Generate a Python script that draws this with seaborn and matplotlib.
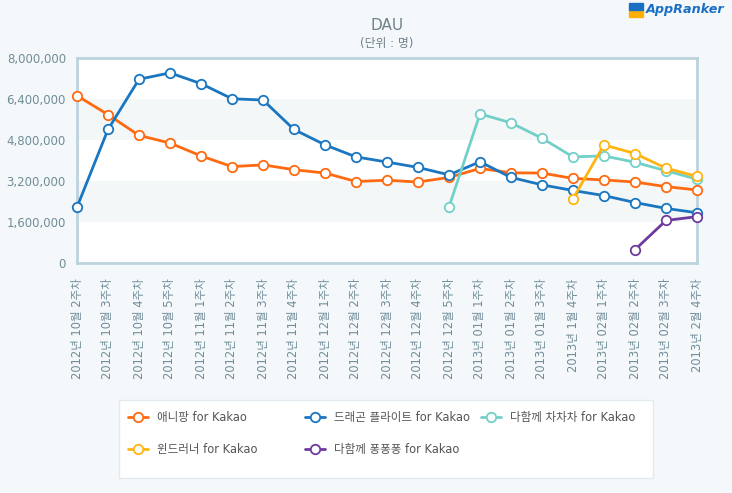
import numpy as np
import pandas as pd
import seaborn as sns
import matplotlib.pyplot as plt
from matplotlib.lines import Line2D
from matplotlib.patches import Rectangle

weeks = ["2012년 10월 2주차", "2012년 10월 3주차", "2012년 10월 4주차", "2012년 10월 5주차",
         "2012년 11월 1주차", "2012년 11월 2주차", "2012년 11월 3주차", "2012년 11월 4주차",
         "2012년 12월 1주차", "2012년 12월 2주차", "2012년 12월 3주차", "2012년 12월 4주차",
         "2012년 12월 5주차", "2013년 01월 1주차", "2013년 01월 2주차", "2013년 01월 3주차",
         "2013년 1월 4주차", "2013년 02월 1주차", "2013년 02월 2주차", "2013년 02월 3주차",
         "2013년 2월 4주차"]

anipang = [6530000, 5790000, 4980000, 4680000, 4180000, 3760000, 3830000, 3640000, 3510000,
           3180000, 3230000, 3160000, 3340000, 3690000, 3520000, 3510000, 3300000, 3240000,
           3160000, 2980000, 2850000]
dragonflight = [2180000, 5210000, 7170000, 7420000, 7000000, 6410000, 6360000, 5210000, 4610000,
                4140000, 3940000, 3730000, 3440000, 3950000, 3340000, 3050000, 2830000, 2630000,
                2360000, 2130000, 1960000]
chachacha = [None] * 12 + [2190000, 5820000, 5470000, 4870000, 4140000, 4180000, 3930000, 3600000, 3270000]
windrunner = [None] * 16 + [2510000, 4610000, 4270000, 3700000, 3380000]
pongpong = [None] * 18 + [520000, 1660000, 1810000]

series_names = ["애니팡 for Kakao", "드래곤 플라이트 for Kakao", "다함께 차차차 for Kakao",
                "윈드러너 for Kakao", "다함께 퐁퐁퐁 for Kakao"]
series_values = [anipang, dragonflight, chachacha, windrunner, pongpong]
colors = ["#ff6a10", "#1a76c0", "#72d0c8", "#ffb510", "#6e3a9c"]

y_ticks = [0, 1600000, 3200000, 4800000, 6400000, 8000000]

rows = []
for name, vals in zip(series_names, series_values):
    for i, v in enumerate(vals):
        if v is not None:
            rows.append({"idx": i, "series": name, "value": v})
df = pd.DataFrame(rows)

sns.set_theme(style="white")
plt.rcParams["font.family"] = ["DejaVu Sans", "Noto Sans CJK KR"]

W, H = 732, 493
bg = "#f5f8fa"
txt_col = "#6f8d98"
fig = plt.figure(figsize=(W / 100, H / 100), dpi=100, facecolor=bg)
ax = fig.add_axes([77 / W, 1 - 263 / H, 620 / W, 205 / H])
ax.set_facecolor("white")

for lo, hi in [(1600000, 3200000), (4800000, 6400000)]:
    ax.axhspan(lo, hi, color="#f3f7f8", zorder=0, lw=0)

for name, c in zip(series_names, colors):
    sns.lineplot(data=df[df["series"] == name], x="idx", y="value", color=c, ax=ax,
                 marker="o", markersize=6.8, markerfacecolor="white", markeredgecolor=c,
                 markeredgewidth=1.3, linewidth=2, legend=False, clip_on=False, zorder=3)

ax.set_xlim(0, len(weeks) - 1)
ax.set_ylim(0, 8000000)
ax.set_xticks(range(len(weeks)))
ax.set_xticklabels(weeks, rotation=90, fontsize=8.3, color=txt_col)
ax.set_yticks(y_ticks)
ax.set_yticklabels([f"{v:,}" for v in y_ticks], fontsize=8.5, color=txt_col)
ax.tick_params(axis="x", length=0, pad=11)
ax.tick_params(axis="y", length=0, pad=8)
ax.set_xlabel("")
ax.set_ylabel("")
for sp in ax.spines.values():
    sp.set_color("#bcd3dc")
    sp.set_linewidth(2)

# Titles
fig.text(387 / W, 1 - 25 / H, "DAU", ha="center", va="center", fontsize=11, color="#6f8089")
fig.text(387 / W, 1 - 44 / H, "(단위 : 명)", ha="center", va="center", fontsize=8.5, color="#6f8089")

# Logo
fig.patches.append(Rectangle((629 / W, 1 - 17 / H), 14 / W, 7 / H, transform=fig.transFigure,
                             color="#ffb000", zorder=5))
fig.patches.append(Rectangle((629 / W, 1 - 10 / H), 14 / W, 7 / H, transform=fig.transFigure,
                             color="#1a6fc4", zorder=5))
fig.text(646 / W, 1 - 10 / H, "AppRanker", ha="left", va="center", fontsize=9.2,
         fontweight="bold", style="italic", color="#1a6fc4", family=["DejaVu Sans"])

# Legend box
fig.patches.append(Rectangle((119 / W, 1 - 478 / H), 534 / W, 78 / H, transform=fig.transFigure,
                             facecolor="white", edgecolor="#e3eaee", lw=1, zorder=1))
pos = [(138, 417), (315, 417), (491, 417), (138, 449), (315, 449)]
for (px, py), name, c in zip(pos, series_names, colors):
    fig.lines.append(Line2D([(px - 10) / W, (px + 10) / W], [1 - py / H, 1 - py / H],
                            transform=fig.transFigure, color=c, lw=2, zorder=2))
    fig.lines.append(Line2D([px / W], [1 - py / H], transform=fig.transFigure, marker="o",
                            markersize=6.8, markerfacecolor="white", markeredgecolor=c,
                            markeredgewidth=1.3, zorder=3))
    fig.text((px + 19) / W, 1 - py / H, name, ha="left", va="center", fontsize=8.3, color="#555555")

fig.savefig("out.png", dpi=100, facecolor=bg)
